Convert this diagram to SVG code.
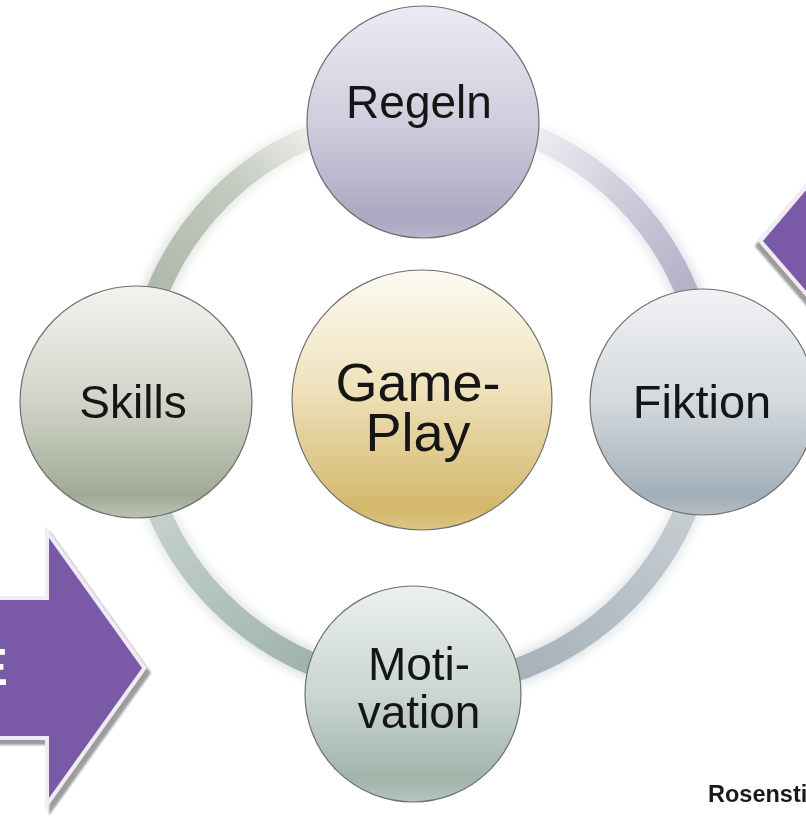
<svg xmlns="http://www.w3.org/2000/svg" width="806" height="827" viewBox="0 0 806 827">
  <defs>
    <style>
      .node-circle { stroke: #6f6f6f; stroke-width: 1.2; }
      .label { font-family: "Liberation Sans", Arial, sans-serif; fill: #151515; text-anchor: middle; }
      .band { fill: none; stroke-width: 23; stroke-linecap: butt; }
      .halo { fill: none; stroke-width: 32; opacity: 0.35; }
      .arrow { fill: #7a5aa6; stroke: #f1ebf6; stroke-width: 8; stroke-linejoin: miter; paint-order: stroke; }
      .arrow-shadow { fill: #9c9c9c; stroke: #9c9c9c; stroke-width: 8; stroke-linejoin: miter; }
    </style>

    <!-- node fills: light top fading to a saturated tint at the bottom -->
    <linearGradient id="gRegeln" x1="0" y1="0" x2="0" y2="1">
      <stop offset="0" stop-color="#eceaf2"/>
      <stop offset="0.5" stop-color="#d0cedd"/>
      <stop offset="0.92" stop-color="#aaa8c2"/>
      <stop offset="1" stop-color="#b8b6cc"/>
    </linearGradient>
    <linearGradient id="gGame" x1="0" y1="0" x2="0" y2="1">
      <stop offset="0" stop-color="#fcfaf2"/>
      <stop offset="0.45" stop-color="#efe2bc"/>
      <stop offset="0.92" stop-color="#d3b76a"/>
      <stop offset="1" stop-color="#dcc584"/>
    </linearGradient>
    <linearGradient id="gFiktion" x1="0" y1="0" x2="0" y2="1">
      <stop offset="0" stop-color="#f1f2f4"/>
      <stop offset="0.5" stop-color="#d3d9dd"/>
      <stop offset="0.92" stop-color="#a2aeb8"/>
      <stop offset="1" stop-color="#b4bec6"/>
    </linearGradient>
    <linearGradient id="gSkills" x1="0" y1="0" x2="0" y2="1">
      <stop offset="0" stop-color="#f3f3f0"/>
      <stop offset="0.5" stop-color="#d0d4c8"/>
      <stop offset="0.9" stop-color="#a2aa96"/>
      <stop offset="1" stop-color="#bcc2b2"/>
    </linearGradient>
    <linearGradient id="gMotiv" x1="0" y1="0" x2="0" y2="1">
      <stop offset="0" stop-color="#ebf0ed"/>
      <stop offset="0.5" stop-color="#cad6d0"/>
      <stop offset="0.9" stop-color="#a0b4aa"/>
      <stop offset="1" stop-color="#b6c6be"/>
    </linearGradient>

    <!-- ring segment fills -->
    <linearGradient id="aTL" gradientUnits="userSpaceOnUse" x1="160" y1="300" x2="320" y2="135">
      <stop offset="0" stop-color="#aeb8aa"/>
      <stop offset="0.6" stop-color="#c4cbc0"/>
      <stop offset="1" stop-color="#eef0ec"/>
    </linearGradient>
    <linearGradient id="aTR" gradientUnits="userSpaceOnUse" x1="530" y1="135" x2="690" y2="300">
      <stop offset="0" stop-color="#efeef4"/>
      <stop offset="0.45" stop-color="#cfcedc"/>
      <stop offset="1" stop-color="#b0b0c6"/>
    </linearGradient>
    <linearGradient id="aBR" gradientUnits="userSpaceOnUse" x1="690" y1="500" x2="530" y2="665">
      <stop offset="0" stop-color="#c6ced2"/>
      <stop offset="1" stop-color="#a8b3bb"/>
    </linearGradient>
    <linearGradient id="aBL" gradientUnits="userSpaceOnUse" x1="155" y1="500" x2="315" y2="665">
      <stop offset="0" stop-color="#c6d2ce"/>
      <stop offset="1" stop-color="#9fb3aa"/>
    </linearGradient>

    <filter id="soft" x="-20%" y="-20%" width="140%" height="140%">
      <feGaussianBlur stdDeviation="4"/>
    </filter>
    <filter id="shadowBlur" x="-10%" y="-10%" width="120%" height="120%">
      <feGaussianBlur stdDeviation="0.8"/>
    </filter>
  </defs>

  <rect width="806" height="827" fill="#ffffff"/>

  <!-- side arrows -->
  <g id="arrow-left">
    <polygon class="arrow-shadow" filter="url(#shadowBlur)" transform="translate(4,5)"
             points="-20,600 49,600 49,538 142,668 49,798 49,736 -20,736"/>
    <polygon class="arrow" points="-20,600 49,600 49,538 142,668 49,798 49,736 -20,736"/>
    <text x="8" y="685" font-family="'Liberation Sans', Arial, sans-serif" font-size="52" font-weight="bold" fill="#ffffff" text-anchor="end">E</text>
  </g>

  <g id="arrow-right">
    <polygon class="arrow-shadow" filter="url(#shadowBlur)" transform="translate(-3,5)"
             points="840,150 763,241 840,330"/>
    <polygon class="arrow" points="840,150 763,241 840,330"/>
  </g>

  <!-- ring connecting the outer nodes -->
  <g id="connectors">
    <g filter="url(#soft)">
      <path class="halo" stroke="url(#aTL)" d="M 136 400 A 286 286 0 0 1 422 114"/>
      <path class="halo" stroke="url(#aTR)" d="M 422 114 A 286 286 0 0 1 708 400"/>
      <path class="halo" stroke="url(#aBR)" d="M 708 400 A 286 286 0 0 1 422 686"/>
      <path class="halo" stroke="url(#aBL)" d="M 422 686 A 286 286 0 0 1 136 400"/>
    </g>
    <path class="band" stroke="url(#aTL)" d="M 136 400 A 286 286 0 0 1 422 114"/>
    <path class="band" stroke="url(#aTR)" d="M 422 114 A 286 286 0 0 1 708 400"/>
    <path class="band" stroke="url(#aBR)" d="M 708 400 A 286 286 0 0 1 422 686"/>
    <path class="band" stroke="url(#aBL)" d="M 422 686 A 286 286 0 0 1 136 400"/>
  </g>

  <!-- nodes -->
  <g id="node-regeln">
    <circle class="node-circle" cx="423" cy="122" r="116" fill="url(#gRegeln)"/>
    <text class="label" x="419" y="118" font-size="46">Regeln</text>
  </g>

  <g id="node-gameplay">
    <circle class="node-circle" cx="422" cy="400" r="130" fill="url(#gGame)"/>
    <text class="label" font-size="54"><tspan x="418" y="401">Game-</tspan><tspan x="418" y="451">Play</tspan></text>
  </g>

  <g id="node-fiktion">
    <circle class="node-circle" cx="703" cy="402" r="113" fill="url(#gFiktion)"/>
    <text class="label" x="702" y="418" font-size="47">Fiktion</text>
  </g>

  <g id="node-skills">
    <circle class="node-circle" cx="136" cy="402" r="116" fill="url(#gSkills)"/>
    <text class="label" x="133" y="418" font-size="46">Skills</text>
  </g>

  <g id="node-motivation">
    <circle class="node-circle" cx="413" cy="694" r="108" fill="url(#gMotiv)"/>
    <text class="label" font-size="46"><tspan x="419" y="680">Moti-</tspan><tspan x="419" y="728">vation</tspan></text>
  </g>

  <!-- source credit -->
  <text x="708" y="802" font-family="'Liberation Sans', Arial, sans-serif" font-size="23.5" font-weight="bold" fill="#1a1a1a">Rosensti</text>
</svg>
